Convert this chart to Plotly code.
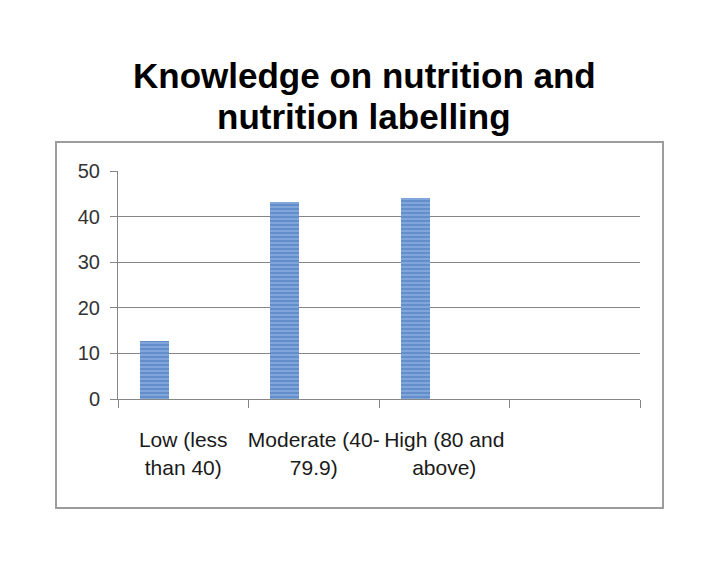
import plotly.graph_objects as go

categories = ["Low (less<br>than 40)", "Moderate (40-<br>79.9)", "High (80 and<br>above)", " "]
values = [12.7, 43.2, 44.1, None]
y_ticks = [0, 10, 20, 30, 40, 50]
title_lines = ["Knowledge on nutrition and", "nutrition labelling"]

W, H = 728, 563
OFF = 8  # page body margin
L, R, T, B = 118, 640, 171, 399
pw, ph = R - L, B - T

fig = go.Figure()
fig.add_trace(go.Bar(
    x=categories, y=values,
    width=1 / 4.5, offset=-0.5 + 0.75 / 4.5,
    marker=dict(color="#4F7EBF", line=dict(width=0),
                pattern=dict(shape="-", fgcolor="#4675B8", bgcolor="#80A6DB",
                             size=4, solidity=0.5)),
    showlegend=False,
))

def px_x(p):
    return (p - L) / pw

def px_y(p):
    return (B - p) / ph

fig.add_shape(type="rect", xref="paper", yref="paper",
              x0=px_x(56), x1=px_x(663), y0=px_y(508), y1=px_y(142),
              line=dict(color="#9c9c9c", width=2), fillcolor="rgba(0,0,0,0)", layer="below")

title_font = dict(family="Liberation Sans, Arial, sans-serif", size=35, color="black", weight="bold")
for line, yc in zip(title_lines, [75, 117]):
    fig.add_annotation(text=line, xref="paper", yref="paper", x=px_x(364), y=px_y(yc),
                       xanchor="center", yanchor="middle", showarrow=False, font=title_font)

fig.update_layout(
    width=W, height=H,
    margin=dict(l=L - OFF, r=W - R + OFF, t=T - OFF, b=H - B + OFF, pad=0),
    paper_bgcolor="white", plot_bgcolor="white",
    bargap=0,
    xaxis=dict(type="category", categoryorder="array", categoryarray=categories,
               tickson="boundaries", ticks="outside", ticklen=8, tickcolor="#868686", tickwidth=1,
               showline=True, linecolor="#868686", linewidth=1, showgrid=False,
               tickfont=dict(family="Liberation Sans, Arial, sans-serif", size=21, color="#1a1a1a"),
               ticklabelstandoff=22, tickangle=0),
    yaxis=dict(range=[0, 50], tickvals=y_ticks, ticks="outside", ticklen=7, tickcolor="#868686",
               showline=True, linecolor="#868686", linewidth=1,
               showgrid=True, gridcolor="#868686", gridwidth=1, zeroline=False,
               tickfont=dict(family="Liberation Sans, Arial, sans-serif", size=20, color="#333333"),
               ticklabelstandoff=6),
)

fig.write_html("out.html")
